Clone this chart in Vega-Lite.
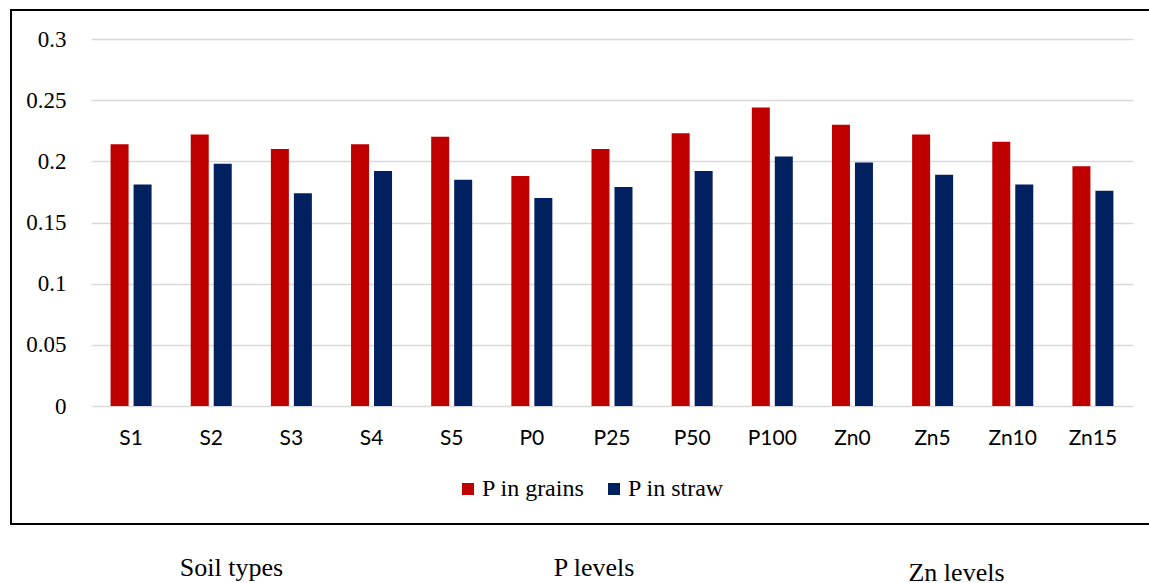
{
  "$schema": "https://vega.github.io/schema/vega-lite/v6.json",
  "width": 1138,
  "height": 514,
  "autosize": {"type": "none"},
  "padding": {"left": 11, "top": 10, "right": 0, "bottom": 59},
  "background": "white",
  "view": {"stroke": "#000000", "strokeWidth": 2, "strokeDash": [1138, 514, 1652]},
  "config": {
    "font": "Liberation Serif",
    "axis": {"domain": false, "ticks": false, "tickSize": 0, "title": null, "labelColor": "#000000"},
    "axisY": {"labelFont": "Liberation Serif", "labelFontSize": 23},
    "legend": {"labelFont": "Liberation Serif", "labelFontSize": 24}
  },
  "data": {
    "values": [
      {"category": "S1", "group": "Soil types", "series": "P in grains", "value": 0.214},
      {"category": "S1", "group": "Soil types", "series": "P in straw", "value": 0.181},
      {"category": "S2", "group": "Soil types", "series": "P in grains", "value": 0.222},
      {"category": "S2", "group": "Soil types", "series": "P in straw", "value": 0.198},
      {"category": "S3", "group": "Soil types", "series": "P in grains", "value": 0.210},
      {"category": "S3", "group": "Soil types", "series": "P in straw", "value": 0.174},
      {"category": "S4", "group": "Soil types", "series": "P in grains", "value": 0.214},
      {"category": "S4", "group": "Soil types", "series": "P in straw", "value": 0.192},
      {"category": "S5", "group": "Soil types", "series": "P in grains", "value": 0.220},
      {"category": "S5", "group": "Soil types", "series": "P in straw", "value": 0.185},
      {"category": "P0", "group": "P levels", "series": "P in grains", "value": 0.188},
      {"category": "P0", "group": "P levels", "series": "P in straw", "value": 0.170},
      {"category": "P25", "group": "P levels", "series": "P in grains", "value": 0.210},
      {"category": "P25", "group": "P levels", "series": "P in straw", "value": 0.179},
      {"category": "P50", "group": "P levels", "series": "P in grains", "value": 0.223},
      {"category": "P50", "group": "P levels", "series": "P in straw", "value": 0.192},
      {"category": "P100", "group": "P levels", "series": "P in grains", "value": 0.244},
      {"category": "P100", "group": "P levels", "series": "P in straw", "value": 0.204},
      {"category": "Zn0", "group": "Zn levels", "series": "P in grains", "value": 0.230},
      {"category": "Zn0", "group": "Zn levels", "series": "P in straw", "value": 0.199},
      {"category": "Zn5", "group": "Zn levels", "series": "P in grains", "value": 0.222},
      {"category": "Zn5", "group": "Zn levels", "series": "P in straw", "value": 0.189},
      {"category": "Zn10", "group": "Zn levels", "series": "P in grains", "value": 0.216},
      {"category": "Zn10", "group": "Zn levels", "series": "P in straw", "value": 0.181},
      {"category": "Zn15", "group": "Zn levels", "series": "P in grains", "value": 0.196},
      {"category": "Zn15", "group": "Zn levels", "series": "P in straw", "value": 0.176}
    ]
  },
  "resolve": {"scale": {"x": "independent"}},
  "layer": [
    {
      "mark": {"type": "bar"},
      "encoding": {
        "x": {
          "field": "category",
          "type": "nominal",
          "sort": null,
          "scale": {
            "type": "band",
            "domain": ["S1","S2","S3","S4","S5","P0","P25","P50","P100","Zn0","Zn5","Zn10","Zn15"],
            "range": [80, 1122],
            "paddingInner": 0.426,
            "paddingOuter": 0.213
          },
          "axis": {
            "orient": "bottom",
            "offset": -118,
            "labelFont": "Lato",
            "labelFontSize": 21,
            "labelBaseline": "alphabetic",
            "labelPadding": 38,
            "labelAngle": 0,
            "grid": false
          }
        },
        "xOffset": {
          "field": "series",
          "type": "nominal",
          "scale": {"domain": ["P in grains", "P in straw"], "paddingInner": 0.217, "paddingOuter": 0.109}
        },
        "y": {
          "field": "value",
          "type": "quantitative",
          "scale": {"domain": [0, 0.3], "range": [396, 29], "nice": false, "zero": true},
          "axis": {
            "orient": "left",
            "offset": -80,
            "values": [0, 0.05, 0.1, 0.15, 0.2, 0.25, 0.3],
            "labelExpr": "datum.value === 0 ? '0' : format(datum.value, '')",
            "labelFont": "Liberation Serif",
            "labelFontSize": 23,
            "labelPadding": 25,
            "grid": true,
            "gridColor": "#d9d9d9",
            "gridWidth": 1.5
          }
        },
        "color": {
          "field": "series",
          "type": "nominal",
          "scale": {"domain": ["P in grains", "P in straw"], "range": ["#C00000", "#002060"]},
          "legend": {
            "title": null,
            "orient": "none",
            "direction": "horizontal",
            "legendX": 445,
            "legendY": 467,
            "padding": 0,
            "symbolType": "square",
            "symbolSize": 144,
            "symbolStrokeWidth": 0,
            "labelFont": "Liberation Serif",
            "labelFontSize": 24,
            "labelColor": "#000000",
            "labelOffset": 2,
            "columnPadding": 17
          }
        }
      }
    },
    {
      "mark": {"type": "point", "opacity": 0},
      "encoding": {
        "x": {
          "field": "group",
          "type": "nominal",
          "sort": null,
          "scale": {"type": "point", "domain": ["Soil types", "P levels", "Zn levels"], "range": [220, 945], "padding": 0},
          "axis": {
            "orient": "bottom",
            "offset": 0,
            "labelFont": "Liberation Serif",
            "labelFontSize": 26,
            "labelBaseline": "alphabetic",
            "labelPadding": {"condition": {"test": "datum.value === 'Zn levels'", "value": 56}, "value": 51},
            "labelAngle": 0,
            "grid": false
          }
        },
        "y": {"field": "value", "type": "quantitative"}
      }
    }
  ]
}
